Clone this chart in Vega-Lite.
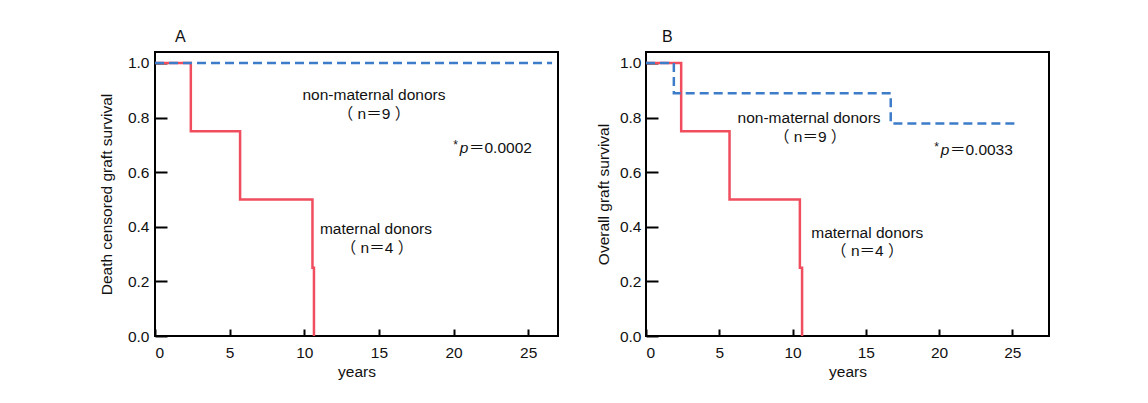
{
  "$schema": "https://vega.github.io/schema/vega-lite/v6.json",
  "background": "white",
  "padding": {"left": 98, "top": 28, "right": 0, "bottom": 0},
  "spacing": 36,
  "config": {
    "font": "Liberation Sans",
    "view": {"stroke": "#000", "strokeWidth": 2},
    "axis": {
      "labelFontSize": 15.5, "titleFontSize": 15.5, "labelColor": "#111", "titleColor": "#111",
      "titleFontWeight": "normal", "domain": false, "tickColor": "#000", "tickWidth": 2,
      "grid": false, "labelFont": "Liberation Sans", "titleFont": "Liberation Sans"
    },
    "title": {"fontSize": 16, "fontWeight": "normal", "anchor": "start", "frame": "group", "font": "Liberation Sans", "color": "#111"},
    "text": {"font": "Liberation Sans, Noto Sans CJK SC", "fontSize": 15.5, "color": "#111"}
  },
  "hconcat": [
    {
      "width": 403, "height": 284,
      "title": {"text": "A", "dx": 20, "offset": 7},
      "layer": [
        {
          "data": {"values": [
            {"years": 0, "survival": 1}, {"years": 2.4, "survival": 0.75}, {"years": 5.7, "survival": 0.5},
            {"years": 10.55, "survival": 0.25}, {"years": 10.65, "survival": 0}
          ]},
          "mark": {"type": "line", "interpolate": "step-after", "color": "#F04E5E", "strokeWidth": 2.5},
          "encoding": {
            "x": {"field": "years", "type": "quantitative", "scale": {"domain": [0, 27], "nice": false},
                  "axis": {"values": [0, 5, 10, 15, 20, 25], "title": "years", "tickSize": -7, "labelPadding": 16, "titlePadding": 4}},
            "y": {"field": "survival", "type": "quantitative", "scale": {"domain": [0, 1.04], "nice": false},
                  "axis": {"values": [0, 0.2, 0.4, 0.6, 0.8, 1.0], "format": ".1f", "title": "Death censored graft survival", "tickSize": -12, "labelPadding": 18, "titlePadding": 13}}
          }
        },
        {
          "data": {"values": [{"years": 0, "survival": 1}, {"years": 26.6, "survival": 1}]},
          "mark": {"type": "line", "color": "#3D7CC9", "strokeWidth": 2.5, "strokeDash": [9, 5]},
          "encoding": {"x": {"field": "years", "type": "quantitative"}, "y": {"field": "survival", "type": "quantitative"}}
        },
        {
          "data": {"values": [
            {"years": 14.67, "survival": 0.882, "label": "non-maternal donors"},
            {"years": 14.67, "survival": 0.8125, "label": "（ n＝9 ）"},
            {"years": 14.8, "survival": 0.393, "label": "maternal donors"},
            {"years": 14.87, "survival": 0.324, "label": "（ n＝4 ）"}
          ]},
          "mark": {"type": "text", "align": "center", "baseline": "middle"},
          "encoding": {"x": {"field": "years", "type": "quantitative"}, "y": {"field": "survival", "type": "quantitative"}, "text": {"field": "label"}}
        },
        {
          "data": {"values": [{"years": 20.7, "survival": 0.6875, "star": "*", "p": "p", "value": "＝0.0002"}]},
          "layer": [
            {"mark": {"type": "text", "align": "right", "baseline": "middle", "dx": -6, "dy": -3, "fontSize": 12}, "encoding": {"text": {"field": "star"}}},
            {"mark": {"type": "text", "align": "center", "baseline": "middle", "fontStyle": "italic"}, "encoding": {"text": {"field": "p"}}},
            {"mark": {"type": "text", "align": "left", "baseline": "middle", "dx": 5}, "encoding": {"text": {"field": "value"}}}
          ],
          "encoding": {"x": {"field": "years", "type": "quantitative"}, "y": {"field": "survival", "type": "quantitative"}}
        }
      ]
    },
    {
      "width": 403, "height": 284,
      "title": {"text": "B", "dx": 16, "offset": 7},
      "layer": [
        {
          "data": {"values": [
            {"years": 0, "survival": 1}, {"years": 2.4, "survival": 0.75}, {"years": 5.7, "survival": 0.5},
            {"years": 10.5, "survival": 0.25}, {"years": 10.65, "survival": 0}
          ]},
          "mark": {"type": "line", "interpolate": "step-after", "color": "#F04E5E", "strokeWidth": 2.5},
          "encoding": {
            "x": {"field": "years", "type": "quantitative", "scale": {"domain": [0, 27.5], "nice": false},
                  "axis": {"values": [0, 5, 10, 15, 20, 25], "title": "years", "tickSize": -7, "labelPadding": 16, "titlePadding": 4}},
            "y": {"field": "survival", "type": "quantitative", "scale": {"domain": [0, 1.04], "nice": false},
                  "axis": {"values": [0, 0.2, 0.4, 0.6, 0.8, 1.0], "format": ".1f", "title": "Overall graft survival", "tickSize": -12, "labelPadding": 17, "titlePadding": 8}}
          }
        },
        {
          "data": {"values": [
            {"years": 0, "survival": 1}, {"years": 1.9, "survival": 0.889}, {"years": 16.7, "survival": 0.778}, {"years": 25.4, "survival": 0.778}
          ]},
          "mark": {"type": "line", "interpolate": "step-after", "color": "#3D7CC9", "strokeWidth": 2.5, "strokeDash": [9, 5]},
          "encoding": {"x": {"field": "years", "type": "quantitative"}, "y": {"field": "survival", "type": "quantitative"}}
        },
        {
          "data": {"values": [
            {"years": 11.13, "survival": 0.80, "label": "non-maternal donors"},
            {"years": 11.2, "survival": 0.73, "label": "（ n＝9 ）"},
            {"years": 15.1, "survival": 0.379, "label": "maternal donors"},
            {"years": 15.1, "survival": 0.3125, "label": "（ n＝4 ）"}
          ]},
          "mark": {"type": "text", "align": "center", "baseline": "middle"},
          "encoding": {"x": {"field": "years", "type": "quantitative"}, "y": {"field": "survival", "type": "quantitative"}, "text": {"field": "label"}}
        },
        {
          "data": {"values": [{"years": 20.4, "survival": 0.68, "star": "*", "p": "p", "value": "＝0.0033"}]},
          "layer": [
            {"mark": {"type": "text", "align": "right", "baseline": "middle", "dx": -6, "dy": -3, "fontSize": 12}, "encoding": {"text": {"field": "star"}}},
            {"mark": {"type": "text", "align": "center", "baseline": "middle", "fontStyle": "italic"}, "encoding": {"text": {"field": "p"}}},
            {"mark": {"type": "text", "align": "left", "baseline": "middle", "dx": 5}, "encoding": {"text": {"field": "value"}}}
          ],
          "encoding": {"x": {"field": "years", "type": "quantitative"}, "y": {"field": "survival", "type": "quantitative"}}
        }
      ]
    }
  ]
}
